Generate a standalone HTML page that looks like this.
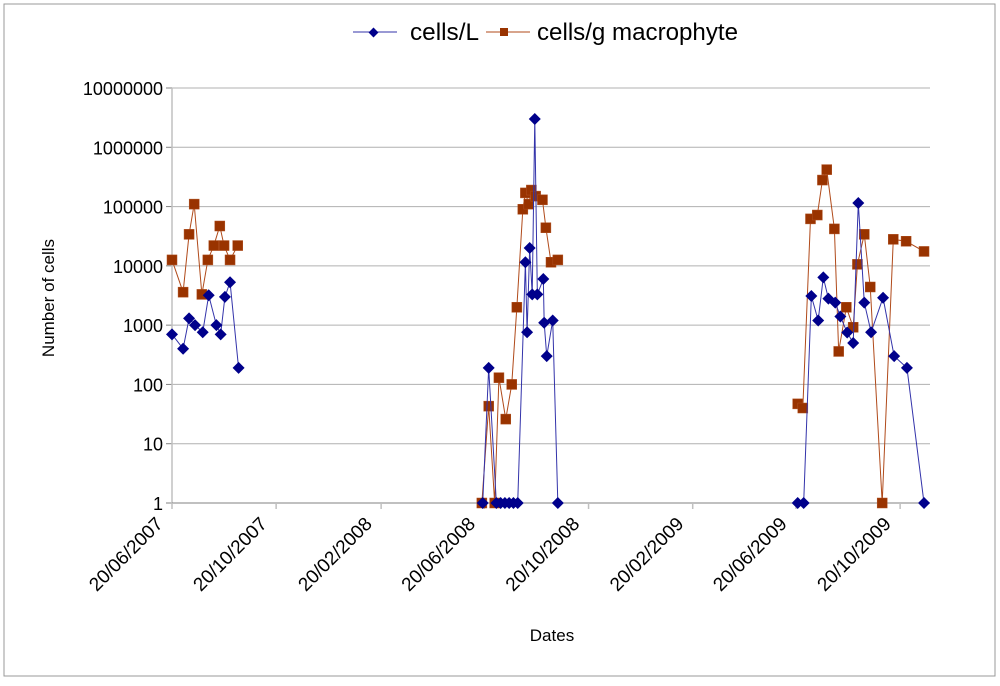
<!DOCTYPE html>
<html><head><meta charset="utf-8"><style>
body{margin:0;background:#fff;font-family:"Liberation Sans",Arial,sans-serif}
svg text{font-family:"Liberation Sans",Arial,sans-serif}
</style></head><body>
<svg id="chart" width="1000" height="681" xmlns="http://www.w3.org/2000/svg">
<rect x="4" y="4" width="991" height="672" fill="#fff" stroke="#999" stroke-width="1"/>
<g id="grid"></g>
<g id="axes"></g>
<g id="series"></g>
<text x="66" y="310" font-size="17" text-anchor="middle" transform="rotate(-90 54 310)">Number of cells</text>
<text x="552" y="641" font-size="17" text-anchor="middle">Dates</text>
<g>
 <g>
  <line x1="353" y1="32" x2="397" y2="32" stroke="#3333aa" stroke-width="1"/>
  <rect x="370" y="29" width="7" height="7" fill="#00008b" transform="rotate(45 373.5 32.5)"/>
  <text x="410" y="40" font-size="24" textLength="69" lengthAdjust="spacingAndGlyphs">cells/L</text>
 </g>
 <g>
  <line x1="486" y1="32" x2="530" y2="32" stroke="#b04a1a" stroke-width="1"/>
  <rect x="500" y="28" width="8" height="8" fill="#993300"/>
  <text x="537" y="40" font-size="24" textLength="201" lengthAdjust="spacingAndGlyphs">cells/g macrophyte</text>
 </g>
</g>
</svg>
<script>
// days since 20/06/2007; null = gap
const daysL = [0,13,20,27,36,43,52,57,62,68,78,null,364,371,380,385,390,395,400,405,414,416,419,422,425,428,435,436,439,446,452,null,733,740,749,757,763,769,777,783,791,798,804,811,819,833,846,861,881];
const valuesL = [700,400,1300,1000,760,3200,1000,700,3000,5300,190,null,1,190,1,1,1,1,1,1,11500,760,20000,3300,3000000,3300,6000,1100,300,1200,1,null,1,1,3100,1200,6400,2800,2400,1400,750,500,115000,2400,760,2900,300,190,1];
const daysG = [0,13,20,26,35,42,49,56,61,68,77,null,363,371,378,383,391,398,404,411,414,418,421,426,434,438,444,452,null,733,739,748,756,762,767,776,781,790,798,803,811,818,832,845,860,881];
const valuesG = [12600,3600,34000,110000,3300,12600,22000,47000,22000,12600,22000,null,1,43,1,130,26,100,2000,90000,170000,110000,190000,150000,130000,44000,11500,12600,null,47,40,62000,72000,280000,420000,42000,360,2000,920,10600,34000,4400,1,28000,26000,17500];
const yTicks = [1,10,100,1000,10000,100000,1000000,10000000];
const xTickLabels = ["20/06/2007","20/10/2007","20/02/2008","20/06/2008","20/10/2008","20/02/2009","20/06/2009","20/10/2009"];
const xTickDays = [0,122,245,366,488,610,731,853];

const NS="http://www.w3.org/2000/svg";
const X0=172,X1=930,Y0=503,Y1=88,DMAX=888;
const xs=d=>X0+(d/DMAX)*(X1-X0);
const ys=v=>Y0-(Math.log10(v)/7)*(Y0-Y1);
function mk(tag,attrs,parent){const e=document.createElementNS(NS,tag);for(const k in attrs)e.setAttribute(k,attrs[k]);parent.appendChild(e);return e;}
const grid=document.getElementById('grid'),axes=document.getElementById('axes'),ser=document.getElementById('series');
yTicks.forEach((v,i)=>{
 const y=ys(v);
 if(i>0){const g=mk('line',{x1:X0,x2:X1,y1:y,y2:y,stroke:'#b0b0b0','stroke-width':1},grid);
 
 }
 mk('line',{x1:X0-6,x2:X0,y1:y,y2:y,stroke:'#808080'},axes);
 const t=mk('text',{x:X0-9,y:y+7,'font-size':18,'text-anchor':'end'},axes);
 t.textContent=String(v);
 
 
});
mk('line',{x1:X0,x2:X0,y1:Y1,y2:Y0,stroke:'#c0c0c0','stroke-width':1.5},axes);
mk('line',{x1:X0,x2:X1,y1:Y0,y2:Y0,stroke:'#808080'},axes);
xTickDays.forEach((d,i)=>{
 const x=xs(d);
 mk('line',{x1:x,x2:x,y1:Y0,y2:Y0+6,stroke:'#c0c0c0','stroke-width':1.5},axes);
 const ax=x-8, ay=Y0+22;
 const t=mk('text',{x:ax,y:ay,'font-size':19,'text-anchor':'end',transform:`rotate(-45 ${ax} ${ay})`},axes);
 t.textContent=xTickLabels[i];
 
 
});
function draw(days,vals,color,markFill,shape,name){
 let seg=[];const segs=[];
 days.forEach((d,i)=>{if(d===null||vals[i]===null){if(seg.length)segs.push(seg);seg=[];}else seg.push([xs(d),ys(vals[i])]);});
 if(seg.length)segs.push(seg);
 segs.forEach(s=>{const p=mk('polyline',{points:s.map(q=>q.join(',')).join(' '),fill:'none',stroke:color,'stroke-width':1},ser);
  
  });
 segs.flat().forEach(([x,y])=>{
  let m;
  if(shape==='d') m=mk('polygon',{points:`${x},${y-6} ${x+6},${y} ${x},${y+6} ${x-6},${y}`,fill:markFill},ser);
  else m=mk('rect',{x:x-5,y:y-5,width:10,height:10,fill:markFill,stroke:'#b05020','stroke-width':0.5},ser);
  
  
 });
}
draw(daysG,valuesG,'#b04a1a','#993300','s','cells-per-g');
draw(daysL,valuesL,'#3333aa','#00008b','d','cells-per-l');
</script>
</body></html>
